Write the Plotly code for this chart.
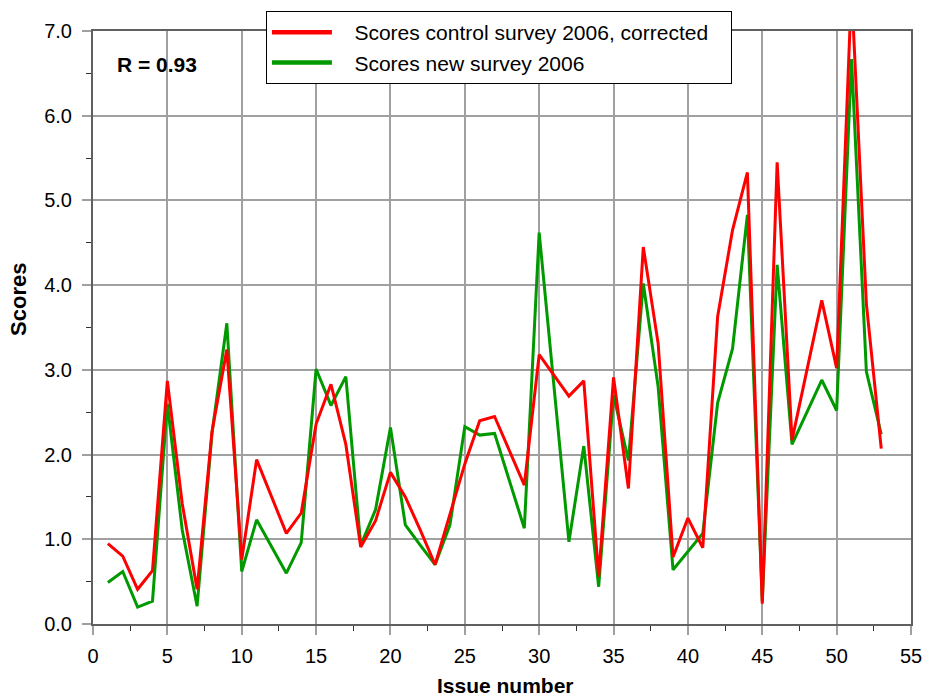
import plotly.graph_objects as go

# Red series: Scores control survey 2006, corrected
red_x = [1, 2, 3, 4, 5, 6, 7, 8, 9, 10, 11, 13, 14, 15, 16, 17, 18, 19, 20, 21, 22, 23,
         25, 26, 27, 29, 30, 32, 33, 34, 35, 36, 37, 38, 39, 40, 41, 42, 43, 44, 45, 46,
         47, 49, 50, 51, 52, 53]
red_y = [0.95, 0.80, 0.41, 0.63, 2.87, 1.42, 0.41, 2.27, 3.24, 0.76, 1.94, 1.07, 1.31,
         2.36, 2.83, 2.12, 0.91, 1.22, 1.79, 1.50, 1.11, 0.70,
         1.89, 2.40, 2.45, 1.64, 3.18, 2.69, 2.87, 0.56, 2.91, 1.60, 4.45, 3.31, 0.79,
         1.25, 0.90, 3.63, 4.65, 5.33, 0.24, 5.45, 2.17, 3.82, 3.02, 7.5, 3.78, 2.07]

# Green series: Scores new survey 2006
green_x = [1, 2, 3, 4, 5, 6, 7, 8, 9, 10, 11, 13, 14, 15, 16, 17, 18, 19, 20, 21, 22, 23,
           24, 25, 26, 27, 29, 30, 32, 33, 34, 35, 36, 37, 38, 39, 41, 42, 43, 44, 45, 46,
           47, 49, 50, 51, 52, 53]
green_y = [0.49, 0.62, 0.20, 0.27, 2.60, 1.11, 0.21, 2.25, 3.55, 0.62, 1.23, 0.60, 0.96,
           3.01, 2.58, 2.92, 0.93, 1.35, 2.32, 1.17, 0.93, 0.70,
           1.17, 2.33, 2.23, 2.25, 1.13, 4.62, 0.97, 2.10, 0.44, 2.70, 1.93, 4.02, 2.80,
           0.64, 1.07, 2.61, 3.25, 4.83, 0.27, 4.24, 2.12, 2.88, 2.52, 6.67, 2.98, 2.24]

x_ticks = list(range(0, 56, 5))
y_ticks = list(range(0, 8))

red_name = "Scores control survey 2006, corrected"
green_name = "Scores new survey 2006"
RED = "#ff0000"
GREEN = "#009900"
FONT = "Liberation Sans, Arial, sans-serif"
PAD = "\u00a0\u00a0\u00a0"

fig = go.Figure()
fig.add_trace(go.Scatter(x=green_x, y=green_y, mode="lines", line=dict(color=GREEN, width=3),
                         showlegend=False, cliponaxis=True))
fig.add_trace(go.Scatter(x=red_x, y=red_y, mode="lines", line=dict(color=RED, width=3),
                         showlegend=False, cliponaxis=True))
# legend entries (thicker line samples)
fig.add_trace(go.Scatter(x=[None], y=[None], mode="lines", name=PAD + red_name + PAD,
                         line=dict(color=RED, width=4.5)))
fig.add_trace(go.Scatter(x=[None], y=[None], mode="lines", name=PAD + green_name,
                         line=dict(color=GREEN, width=4.5)))

fig.add_annotation(x=1.48, y=6.60, xref="x", yref="y", text="<b>R = 0.93</b>",
                   showarrow=False, xanchor="left", yanchor="middle",
                   font=dict(family=FONT, size=21, color="black"))
fig.add_annotation(x=0.5038, y=-0.1262, xref="paper", yref="paper",
                   text="<b>Issue number</b>", showarrow=False,
                   xanchor="center", yanchor="bottom",
                   font=dict(family=FONT, size=21, color="black"))
fig.add_annotation(x=-0.0913, y=0.547, xref="paper", yref="paper",
                   text="<b>Scores</b>", showarrow=False, textangle=-90,
                   xanchor="center", yanchor="middle",
                   font=dict(family=FONT, size=22, color="black"))

axis_common = dict(
    showline=True, linecolor="#606060", linewidth=2, mirror=True,
    showgrid=True, gridcolor="#a0a0a0", gridwidth=2,
    ticks="outside", ticklen=9, tickcolor="#a0a0a0", tickwidth=2,
    tickfont=dict(family=FONT, size=20, color="black"),
    zeroline=False,
)

fig.update_layout(
    width=933, height=699,
    margin=dict(l=93, r=11, t=31, b=75),
    paper_bgcolor="white", plot_bgcolor="white",
    font=dict(family=FONT, size=20, color="black"),
    showlegend=True,
    legend=dict(x=0.2114, y=1.0337, xanchor="left", yanchor="top",
                bgcolor="white", bordercolor="black", borderwidth=1,
                font=dict(family=FONT, size=21, color="black"),
                itemwidth=60, tracegroupgap=0),
    xaxis=dict(range=[0, 55], tickvals=x_ticks, ticklabelstandoff=4,
               minor=dict(dtick=2.5, tick0=0, ticks="outside", ticklen=5,
                          tickcolor="#333333", tickwidth=1, showgrid=False),
               **axis_common),
    yaxis=dict(range=[0, 7], tickvals=y_ticks, tickformat=".1f", ticklabelstandoff=6,
               minor=dict(dtick=0.5, tick0=0, ticks="outside", ticklen=5,
                          tickcolor="#333333", tickwidth=1, showgrid=False),
               **axis_common),
)

fig.write_html("out.html")
